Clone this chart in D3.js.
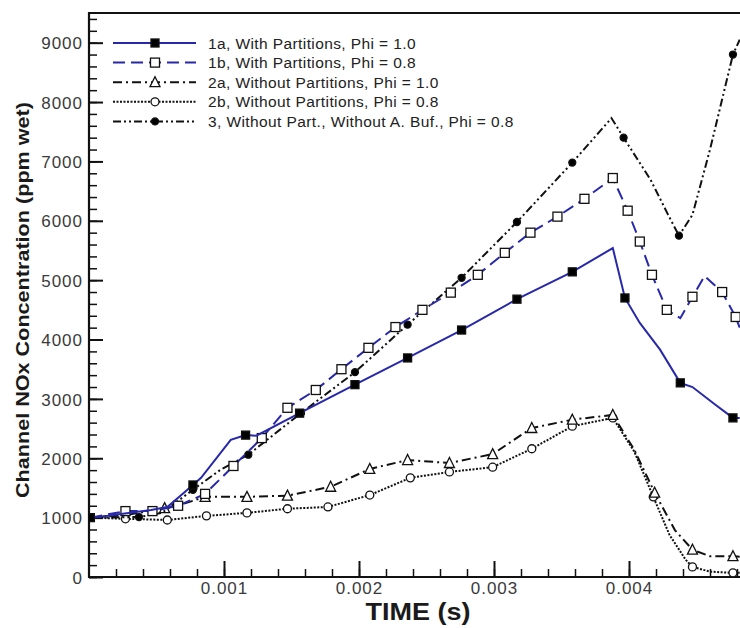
<!DOCTYPE html>
<html>
<head>
<meta charset="utf-8">
<script src="https://cdn.jsdelivr.net/npm/d3@7"></script>
<style>
  body { margin: 0; background: #fff; }
  svg { display: block; }
  .tick text { font-family: "Liberation Sans", Arial, sans-serif; font-size: 17px; letter-spacing: 1px; fill: #3a3a3a; }
  .legend text { font-family: "Liberation Sans", Arial, sans-serif; font-size: 15.5px; letter-spacing: 0.4px; fill: #222; }
</style>
</head>
<body>
<svg id="chart" width="740" height="628"></svg>
<script>

// Data (time in s, NOx in ppm wet)
// ==============================================

var t1a = [0.00001, 0.00014, 0.00046, 0.00058, 0.00077, 0.00083, 0.00105, 0.00116, 0.00124, 0.00156, 0.00197, 0.00236, 0.00276, 0.00317, 0.00358, 0.00388, 0.00397, 0.00408, 0.00423, 0.00438, 0.00447, 0.00464, 0.00477, 0.00482];
var v1a = [1000, 1030, 1130, 1180, 1550, 1670, 2310, 2390, 2380, 2760, 3240, 3690, 4160, 4680, 5140, 5540, 4700, 4280, 3830, 3270, 3200, 2900, 2680, 2680];
var m1a = [0, 4, 7, 9, 10, 11, 12, 13, 14, 16, 19, 22];

var t1b = [0.00001, 0.00027, 0.00047, 0.00066, 0.00086, 0.00107, 0.00128, 0.00147, 0.00168, 0.00187, 0.00207, 0.00227, 0.00247, 0.00268, 0.00288, 0.00308, 0.00327, 0.00347, 0.00367, 0.00388, 0.00399, 0.00408, 0.00417, 0.00428, 0.00438, 0.00447, 0.00456, 0.00469, 0.00479, 0.00482];
var v1b = [1000, 1110, 1110, 1200, 1400, 1870, 2340, 2850, 3150, 3500, 3860, 4210, 4500, 4790, 5090, 5460, 5800, 6070, 6370, 6720, 6170, 5650, 5090, 4500, 4360, 4720, 5070, 4800, 4380, 4200];
var m1b = [1, 2, 3, 4, 5, 6, 7, 8, 9, 10, 11, 12, 13, 14, 15, 16, 17, 18, 19, 20, 21, 22, 23, 25, 27, 28];

var t2a = [0.00001, 0.00027, 0.00056, 0.00067, 0.00086, 0.00117, 0.00147, 0.00179, 0.00208, 0.00236, 0.00267, 0.00299, 0.00328, 0.00358, 0.00388, 0.00404, 0.00419, 0.00434, 0.00447, 0.00460, 0.00477, 0.00482];
var v2a = [1000, 1040, 1160, 1210, 1350, 1350, 1370, 1520, 1820, 1970, 1920, 2070, 2510, 2650, 2730, 2140, 1420, 790, 460, 350, 350, 340];
var m2a = [2, 4, 5, 6, 7, 8, 9, 10, 11, 12, 13, 14, 16, 18, 20];

var t2b = [0.00001, 0.00027, 0.00058, 0.00087, 0.00117, 0.00147, 0.00177, 0.00208, 0.00238, 0.00267, 0.00299, 0.00328, 0.00358, 0.00388, 0.00404, 0.00418, 0.00430, 0.00442, 0.00447, 0.00460, 0.00477, 0.00482];
var v2b = [1000, 980, 960, 1030, 1080, 1150, 1180, 1380, 1670, 1770, 1850, 2160, 2540, 2680, 2110, 1350, 710, 290, 170, 90, 70, 70];
var m2b = [1, 2, 3, 4, 5, 6, 7, 8, 9, 10, 11, 12, 13, 15, 18, 20];

var t3 = [0.00001, 0.00037, 0.00054, 0.00077, 0.00097, 0.00118, 0.00157, 0.00197, 0.00236, 0.00276, 0.00317, 0.00358, 0.00387, 0.00396, 0.00416, 0.00429, 0.00437, 0.00447, 0.00460, 0.00477, 0.00482];
var v3 = [1000, 1010, 1080, 1470, 1800, 2060, 2760, 3450, 4250, 5040, 5980, 6980, 7730, 7400, 6690, 6100, 5750, 6100, 7200, 8800, 9050];
var m3 = [1, 3, 5, 6, 7, 8, 9, 10, 11, 13, 16, 19];

var legendLabels = [
	"1a, With Partitions, Phi = 1.0",
	"1b, With Partitions, Phi = 0.8",
	"2a, Without Partitions, Phi = 1.0",
	"2b, Without Partitions, Phi = 0.8",
	"3, Without Part., Without A. Buf., Phi = 0.8"
];

var xTicks = [0.001, 0.002, 0.003, 0.004];
var yTicks = [0, 1000, 2000, 3000, 4000, 5000, 6000, 7000, 8000, 9000];

(function(){

	// Layout
	// ==============================================

	var blue = "#2828aa";
	var mLeft = 89, mTop = 13, mBottom = 577, mRight = 764;

	var svg = d3.select("#chart");

	var xScale = d3.scaleLinear().domain([0, 0.005]).range([mLeft, mRight]);
	var yScale = d3.scaleLinear().domain([0, 9500]).range([mBottom, mTop]);

	var series = [
		{ t: t1a, v: v1a, m: m1a, color: blue, dash: null, marker: "square", fill: "#000", size: 8 },
		{ t: t1b, v: v1b, m: m1b, color: blue, dash: "12,6", marker: "square", fill: "#fff", size: 9 },
		{ t: t2a, v: v2a, m: m2a, color: "#111", dash: "9,4,2,4", marker: "triangle", fill: "#fff", size: 9 },
		{ t: t2b, v: v2b, m: m2b, color: "#111", dash: "2,1.5", marker: "circle", fill: "#fff", size: 8 },
		{ t: t3, v: v3, m: m3, color: "#111", dash: "8,3,2,3,2,3", marker: "circle", fill: "#000", size: 7 }
	];

	// Axes
	// ==============================================

	svg.append("g")
		.attr("transform", "translate(" + mLeft + ",0)")
		.call(d3.axisLeft(yScale).tickValues(d3.range(0, 9500, 200)).tickSize(-8).tickFormat(""))
		.call(function(g){ g.select(".domain").remove(); })
		.selectAll("line").attr("stroke", "#111").attr("stroke-width", 1.5);

	svg.append("g")
		.attr("transform", "translate(" + mLeft + ",0)")
		.call(d3.axisLeft(yScale).tickValues(yTicks).tickSize(-14).tickPadding(6).tickFormat(d3.format("d")))
		.call(function(g){ g.select(".domain").remove(); })
		.call(function(g){ g.selectAll("line").attr("stroke", "#111").attr("stroke-width", 2); })
		.selectAll("text").attr("dy", "0.36em");

	svg.append("g")
		.attr("transform", "translate(0," + mBottom + ")")
		.call(d3.axisBottom(xScale).tickValues(d3.range(0.0002, 0.0049, 0.0002)).tickSize(-8).tickFormat(""))
		.call(function(g){ g.select(".domain").remove(); })
		.selectAll("line").attr("stroke", "#111").attr("stroke-width", 1.5);

	svg.append("g")
		.attr("transform", "translate(0," + mBottom + ")")
		.call(d3.axisBottom(xScale).tickValues(xTicks).tickSize(-16).tickPadding(5).tickFormat(d3.format(".3f")))
		.call(function(g){ g.select(".domain").remove(); })
		.call(function(g){ g.selectAll("line").attr("stroke", "#111").attr("stroke-width", 2); });

	// Frame
	svg.append("path")
		.attr("d", "M" + mRight + "," + mTop + "H" + mLeft + "V" + mBottom + "H" + mRight)
		.attr("fill", "none")
		.attr("stroke", "#111")
		.attr("stroke-width", 2.2);

	// Axis titles
	svg.append("text")
		.attr("transform", "translate(29,300) rotate(-90)")
		.attr("text-anchor", "middle")
		.attr("textLength", 396)
		.attr("lengthAdjust", "spacingAndGlyphs")
		.style("font-family", "'Liberation Sans', Arial, sans-serif")
		.style("font-size", "19px")
		.style("font-weight", "bold")
		.style("fill", "#1a1a1a")
		.text("Channel NOx Concentration (ppm wet)");

	svg.append("text")
		.attr("x", 418)
		.attr("y", 620)
		.attr("text-anchor", "middle")
		.attr("textLength", 105)
		.attr("lengthAdjust", "spacingAndGlyphs")
		.style("font-family", "'Liberation Sans', Arial, sans-serif")
		.style("font-size", "24px")
		.style("font-weight", "bold")
		.style("fill", "#1a1a1a")
		.text("TIME (s)");

	// Lines and markers
	// ==============================================

	svg.append("clipPath")
		.attr("id", "plot-clip")
		.append("rect")
			.attr("x", mLeft)
			.attr("y", mTop - 6)
			.attr("width", mRight - mLeft)
			.attr("height", mBottom - mTop + 6);

	var plot = svg.append("g").attr("clip-path", "url(#plot-clip)");

	var line = d3.line()
		.x(function(d){ return xScale(d[0]); })
		.y(function(d){ return yScale(d[1]); });

	function drawMarker(g, s, cx, cy){
		var r = s.size / 2;
		if (s.marker === "square") {
			g.append("rect")
				.attr("x", cx - r).attr("y", cy - r)
				.attr("width", s.size).attr("height", s.size)
				.attr("fill", s.fill).attr("stroke", "#111").attr("stroke-width", 1.3);
		} else if (s.marker === "triangle") {
			g.append("path")
				.attr("d", "M" + cx + "," + (cy - r - 1) + "L" + (cx + r + 0.5) + "," + (cy + r) + "L" + (cx - r - 0.5) + "," + (cy + r) + "Z")
				.attr("fill", s.fill).attr("stroke", "#111").attr("stroke-width", 1.3);
		} else {
			g.append("circle")
				.attr("cx", cx).attr("cy", cy).attr("r", r)
				.attr("fill", s.fill).attr("stroke", "#111").attr("stroke-width", 1.3);
		}
	}

	// draw back to front: 2b, 2a, 3, 1b, 1a
	[3, 2, 4, 1, 0].forEach(function(k){
		var s = series[k];
		var pts = s.t.map(function(t, i){ return [t, s.v[i]]; });

		plot.append("path")
			.datum(pts)
			.attr("d", line)
			.attr("fill", "none")
			.attr("stroke", s.color)
			.attr("stroke-width", 2)
			.attr("stroke-dasharray", s.dash);

		var mg = plot.append("g");
		s.m.forEach(function(i){
			drawMarker(mg, s, xScale(pts[i][0]), yScale(pts[i][1]));
		});
	});

	// Legend
	// ==============================================

	var legend = svg.append("g").attr("class", "legend");

	series.forEach(function(s, i){
		var ly = 43 + i * 19.6;
		legend.append("line")
			.attr("x1", 113).attr("x2", 196)
			.attr("y1", ly).attr("y2", ly)
			.attr("stroke", s.color)
			.attr("stroke-width", 2)
			.attr("stroke-dasharray", s.dash);
		drawMarker(legend, s, 155, ly);
		legend.append("text")
			.attr("x", 208)
			.attr("y", ly)
			.attr("dy", "0.36em")
			.text(legendLabels[i]);
	});

})();

</script>
</body>
</html>
